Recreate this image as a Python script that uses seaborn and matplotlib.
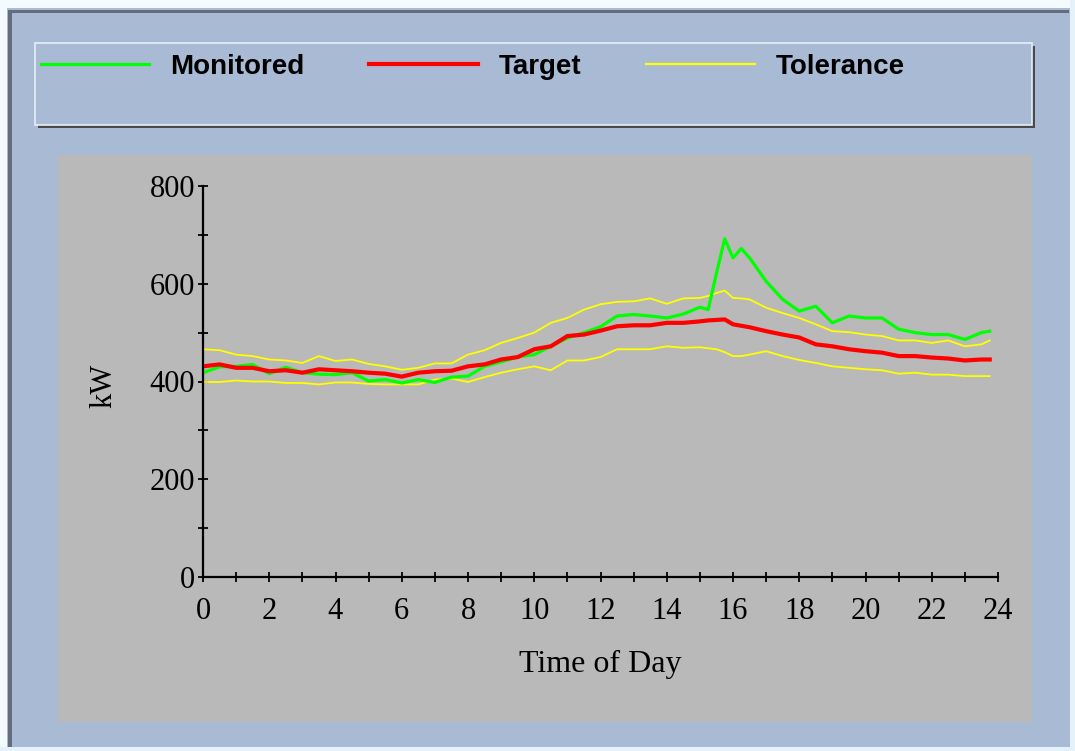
import numpy as np
import pandas as pd
import matplotlib
matplotlib.use("Agg")
import matplotlib.pyplot as plt
from matplotlib.patches import Rectangle
from matplotlib.lines import Line2D
from matplotlib.ticker import MultipleLocator
import seaborn as sns

# readings taken off the chart (hour of day, kW)
hours = [0, 0.5, 1, 1.5, 2, 2.5, 3, 3.5, 4, 4.5, 5, 5.5, 6, 6.5, 7, 7.5, 8, 8.5,
         9, 9.5, 10, 10.5, 11, 11.5, 12, 12.5, 13, 13.5, 14, 14.5, 15, 15.25,
         15.5, 15.75, 16, 16.25, 16.5, 17, 17.5, 18, 18.5, 19, 19.5, 20, 20.5,
         21, 21.5, 22, 22.5, 23, 23.5, 23.75]
monitored = [418, 430, 431, 435, 416, 429, 418, 415, 414, 418, 401, 404, 397, 404,
             398, 409, 411, 431, 440, 450, 455, 472, 489, 500, 512, 534, 537, 534,
             530, 538, 552, 547, 621, 692, 653, 672, 653, 605, 568, 544, 554, 520,
             534, 530, 530, 507, 500, 496, 496, 486, 500, 503]
target = [431, 435, 428, 428, 421, 423, 418, 425, 423, 421, 418, 416, 410, 418,
          421, 422, 431, 435, 445, 450, 466, 472, 493, 496, 504, 513, 515, 515,
          520, 520, 523, 525, 526, 527, 517, 514, 511, 503, 496, 490, 476, 472,
          466, 462, 459, 452, 452, 449, 447, 443, 445, 445]
tol_upper = [466, 464, 455, 452, 445, 443, 438, 452, 442, 445, 436, 431, 424, 428,
             437, 437, 455, 464, 479, 489, 500, 520, 530, 547, 558, 563, 564, 570,
             559, 570, 571, 575, 581, 586, 571, 570, 568, 551, 540, 530, 517, 503,
             501, 496, 493, 484, 484, 479, 484, 472, 476, 484]
tol_lower = [399, 399, 402, 400, 400, 397, 397, 394, 398, 398, 395, 394, 394, 394,
             404, 406, 399, 409, 418, 425, 431, 423, 443, 443, 450, 466, 466, 466,
             472, 469, 470, 468, 466, 460, 452, 452, 455, 462, 452, 444, 438, 431,
             428, 425, 423, 416, 418, 414, 414, 411, 411, 411]

df = pd.DataFrame({"hour": hours, "Monitored": monitored, "Target": target,
                   "upper": tol_upper, "lower": tol_lower})

W, H = 1075, 751
bg_blue = "#a9bad5"
panel_gray = "#b9b9b9"

fig = plt.figure(figsize=(W / 100, H / 100), dpi=100, facecolor=bg_blue)


def px_rect(x0, y0, x1, y1, **kw):
    # rectangle in pixel coords (top-left origin), kept behind the axes
    r = Rectangle((x0 / W, 1 - y1 / H), (x1 - x0) / W, (y1 - y0) / H,
                  transform=fig.transFigure, zorder=-10, **kw)
    fig.patches.append(r)
    return r


# window frame
px_rect(0, 0, W, 8, facecolor="#f4fbff", edgecolor="none")
px_rect(0, 0, 7, H, facecolor="#f4fbff", edgecolor="none")
px_rect(0, H - 4, W, H, facecolor="#e6f2fa", edgecolor="none")
px_rect(W - 5, 0, W, H, facecolor="#e6f2fa", edgecolor="none")
px_rect(8, 10, W - 6, 13, facecolor="#656c7c", edgecolor="none")
px_rect(8, 10, 12, H - 4, facecolor="#656c7c", edgecolor="none")

# legend box with shadow
px_rect(38, 46, 1035, 128, facecolor="#4a4a4a", edgecolor="none")
px_rect(35, 43, 1032, 125, facecolor=bg_blue, edgecolor="#e8eef6", linewidth=1.2)

# gray plot panel
px_rect(58, 155, 1032, 722, facecolor=panel_gray, edgecolor="none")

ax = fig.add_axes([203 / W, 1 - 577 / H, (998 - 203) / W, (577 - 186) / H])
ax.set_facecolor("none")
ax.set_zorder(5)

sns.lineplot(data=df, x="hour", y="upper", color="#ffff00", linewidth=1.3, ax=ax)
sns.lineplot(data=df, x="hour", y="lower", color="#ffff00", linewidth=1.3, ax=ax)
sns.lineplot(data=df, x="hour", y="Monitored", color="#00ff00", linewidth=2.3, ax=ax)
sns.lineplot(data=df, x="hour", y="Target", color="#ff0000", linewidth=3.0, ax=ax)

ax.set_xlim(0, 24)
ax.set_ylim(0, 800)
ax.xaxis.set_major_locator(MultipleLocator(2))
ax.xaxis.set_minor_locator(MultipleLocator(1))
ax.yaxis.set_major_locator(MultipleLocator(200))
ax.yaxis.set_minor_locator(MultipleLocator(100))

for s in ["top", "right"]:
    ax.spines[s].set_visible(False)
for s in ["left", "bottom"]:
    ax.spines[s].set_linewidth(1.6)
    ax.spines[s].set_color("black")

serif = "Liberation Serif"
ax.tick_params(which="both", direction="inout", length=7, width=1.3, color="black")
ax.tick_params(axis="x", which="major", pad=11, labelsize=22)
ax.tick_params(axis="y", which="major", pad=2, labelsize=22)
for lab in ax.get_xticklabels() + ax.get_yticklabels():
    lab.set_fontfamily(serif)

ax.set_xlabel("Time of Day", fontsize=23, family=serif, va="center")
ax.set_ylabel("kW", fontsize=22, family=serif, va="center")
ax.xaxis.set_label_coords(0.5, -0.225)
ax.yaxis.set_label_coords(-0.125, 0.49)

handles = [Line2D([], [], color="#00ff00", linewidth=2.3),
           Line2D([], [], color="#ff0000", linewidth=3.0),
           Line2D([], [], color="#ffff00", linewidth=1.6)]
leg = fig.legend(handles, ["Monitored", "Target", "Tolerance"], ncol=3,
                 loc="upper left", bbox_to_anchor=(35 / W, 1 - 48 / H),
                 frameon=False, handlelength=3.9, handletextpad=0.75,
                 columnspacing=2.35, borderaxespad=0, borderpad=0.2,
                 prop={"family": "Liberation Sans", "weight": "bold", "size": 20})

fig.savefig("out.png", dpi=100, facecolor=fig.get_facecolor())
